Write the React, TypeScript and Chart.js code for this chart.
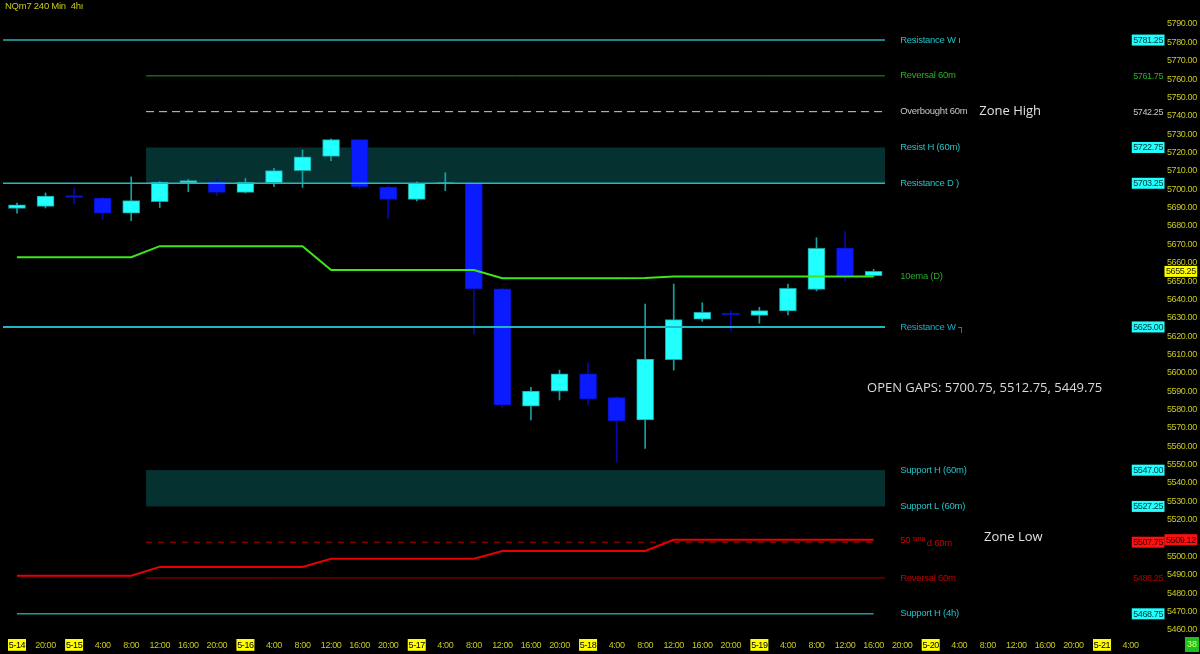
import React, { useEffect, useRef } from "react";
import { Chart, registerables } from "chart.js";

Chart.register(...registerables);

// ---------------- data ----------------
const xTickLabels = [
  "5-14", "20:00", "5-15", "4:00", "8:00", "12:00", "16:00", "20:00",
  "5-16", "4:00", "8:00", "12:00", "16:00", "20:00",
  "5-17", "4:00", "8:00", "12:00", "16:00", "20:00",
  "5-18", "4:00", "8:00", "12:00", "16:00", "20:00",
  "5-19", "4:00", "8:00", "12:00", "16:00", "20:00",
  "5-20", "4:00", "8:00", "12:00", "16:00", "20:00",
  "5-21", "4:00",
];

const yTickValues = [
  5460, 5470, 5480, 5490, 5500, 5510, 5520, 5530, 5540, 5550, 5560, 5570,
  5580, 5590, 5600, 5610, 5620, 5630, 5640, 5650, 5660, 5670, 5680, 5690,
  5700, 5710, 5720, 5730, 5740, 5750, 5760, 5770, 5780, 5790,
];

const candleOpen = [
  5689.5, 5690.7, 5696.5, 5695.2, 5686.9, 5693.2, 5703.4, 5704.5, 5698.3, 5703.6,
  5710.1, 5717.9, 5727.0, 5701.2, 5694.5, 5703.0, 5703.2, 5645.8, 5581.8, 5590.0,
  5599.5, 5586.5, 5574.3, 5607.2, 5629.2, 5632.4, 5631.3, 5633.7, 5645.5, 5668.0,
  5652.9,
];
const candleHigh = [
  5692.5, 5698.0, 5700.7, 5695.5, 5706.7, 5704.2, 5705.4, 5705.6, 5705.8, 5711.4,
  5721.4, 5727.4, 5727.2, 5701.5, 5704.0, 5709.0, 5704.0, 5646.0, 5592.1, 5601.5,
  5605.5, 5587.0, 5637.5, 5648.4, 5638.2, 5633.7, 5635.7, 5648.4, 5673.6, 5676.9,
  5656.4,
];
const candleLow = [
  5687.0, 5689.8, 5692.0, 5683.6, 5682.9, 5690.0, 5698.7, 5696.5, 5698.0, 5701.4,
  5701.0, 5715.5, 5700.0, 5684.2, 5693.6, 5699.2, 5621.2, 5581.2, 5574.3, 5585.2,
  5582.5, 5551.4, 5558.9, 5601.5, 5628.0, 5622.8, 5627.0, 5631.5, 5644.6, 5650.2,
  5652.5,
];
const candleClose = [
  5691.5, 5696.3, 5695.5, 5686.9, 5693.8, 5703.9, 5704.7, 5698.3, 5703.8, 5710.1,
  5717.7, 5727.0, 5701.4, 5694.5, 5703.2, 5703.6, 5645.8, 5582.5, 5590.1, 5599.5,
  5585.8, 5574.0, 5607.5, 5629.0, 5633.0, 5631.5, 5633.9, 5646.0, 5667.8, 5652.9,
  5655.25,
];

const ema10Daily = [
  5663.0, 5663.0, 5663.0, 5663.0, 5663.0, 5669.0, 5669.0, 5669.0, 5669.0, 5669.0,
  5669.0, 5656.0, 5656.0, 5656.0, 5656.0, 5656.0, 5656.0, 5651.5, 5651.5, 5651.5,
  5651.5, 5651.5, 5651.7, 5652.5, 5652.5, 5652.5, 5652.5, 5652.5, 5652.5, 5652.5,
  5652.5,
];
const sma50Step = [
  5489.5, 5489.5, 5489.5, 5489.5, 5489.5, 5494.3, 5494.3, 5494.3, 5494.3, 5494.3,
  5494.3, 5498.7, 5498.7, 5498.7, 5498.7, 5498.7, 5498.7, 5503.0, 5503.0, 5503.0,
  5503.0, 5503.0, 5503.0, 5509.12, 5509.12, 5509.12, 5509.12, 5509.12, 5509.12, 5509.12,
  5509.12,
];

const levelNames = [
  "Resistance W ı", "Reversal 60m", "Overbought 60m", "Resist H (60m)", "Resistance D )",
  "Resistance W ┐", "Support H (60m)", "Support L (60m)", "50 sma d 60m", "Reversal 60m",
  "Support H (4h)",
];
const levelPrices = [
  5781.25, 5761.75, 5742.25, 5722.75, 5703.25, 5625.0, 5547.0, 5527.25, 5507.75, 5488.25,
  5468.75,
];
const zoneResist = [5722.75, 5703.25];
const zoneSupport = [5547.0, 5527.25];
const lastPrice = 5655.25;
const smaLast = 5509.12;
const openGapPrices = [5700.75, 5512.75, 5449.75];
const titleText = "NQm7 240 Min  4hı";
const barCounter = "38";
const emaLabel = "10ema (D)";

// ---------------- styles / layout (not data) ----------------
const SANS = "'Liberation Sans', Arial, sans-serif";
const BIG = "'Open Sans', 'Noto Sans', sans-serif";
const TICK_SIZE = 9;
const TICK_SPACING = "-0.4px";
const LABEL_SIZE = 9.5;
const LABEL_SPACING = "-0.25px";
const AXIS_YELLOW = "#c8c81e";
const CYAN_TXT = "#22c2c6";
const X_MIN = -0.595;
const X_MAX = 39.05;
const Y_MIN = 5456.67;
const Y_MAX = 5803.07;
const SPAN_LEFT = -0.49;
const SPAN_ZONE = 4.52;
const SPAN_END = 30.4;
const SPAN_END_SHORT = 30.0;
const LABEL_BAR = 30.93;

const levelStyle = [
  { line: true, from: SPAN_LEFT, to: SPAN_END, color: "#25b2b4", width: 1.5, dash: [], text: CYAN_TXT, tag: "cyan" },
  { line: true, from: SPAN_ZONE, to: SPAN_END, color: "#1d9a1d", width: 1, dash: [], text: "#22b422", tag: "green" },
  { line: true, from: SPAN_ZONE, to: SPAN_END, color: "#d0d0d0", width: 1, dash: [8, 5], text: "#c8c8c8", tag: "gray" },
  { line: false, from: 0, to: 0, color: "", width: 0, dash: [], text: CYAN_TXT, tag: "cyan" },
  { line: true, from: SPAN_LEFT, to: SPAN_END, color: "#28b8bc", width: 1.5, dash: [], text: CYAN_TXT, tag: "cyan" },
  { line: true, from: SPAN_LEFT, to: SPAN_END, color: "#20b6c2", width: 2, dash: [], text: "#1eaac8", tag: "cyan" },
  { line: false, from: 0, to: 0, color: "", width: 0, dash: [], text: CYAN_TXT, tag: "cyan" },
  { line: false, from: 0, to: 0, color: "", width: 0, dash: [], text: CYAN_TXT, tag: "cyan" },
  { line: true, from: SPAN_ZONE, to: SPAN_END_SHORT, color: "#b80000", width: 1, dash: [6, 6], text: "#d00000", tag: "red" },
  { line: true, from: SPAN_ZONE, to: SPAN_END, color: "#a00000", width: 1, dash: [], text: "#c00000", tag: "darkred" },
  { line: true, from: 0, to: SPAN_END_SHORT, color: "#1d9ca2", width: 1.5, dash: [], text: CYAN_TXT, tag: "cyan" },
];

function isDateLabel(s: string) {
  return s.indexOf("-") >= 0;
}

function tagBox(ctx: any, text: string, x: number, y: number, align: string, bg: string | null, fg: string) {
  ctx.font = `${TICK_SIZE}px ${SANS}`;
  ctx.letterSpacing = TICK_SPACING;
  const w = ctx.measureText(text).width;
  const left = align === "right" ? x - w : x;
  if (bg) {
    ctx.fillStyle = bg;
    ctx.fillRect(left - 1.5, y - 5.5, w + 3, 11);
  }
  ctx.fillStyle = fg;
  ctx.textAlign = "left";
  ctx.textBaseline = "middle";
  ctx.fillText(text, left, y + 0.5);
}

const overlayPlugin = {
  id: "overlay",
  beforeDraw(chart: any) {
    const c = chart.ctx;
    c.save();
    c.fillStyle = "#000";
    c.fillRect(0, 0, chart.width, chart.height);
    c.restore();
    // tighter letter spacing for the library-drawn tick labels
    c.letterSpacing = TICK_SPACING;
  },
  beforeDatasetsDraw(chart: any) {
    const c = chart.ctx;
    const xs = chart.scales.x;
    const ys = chart.scales.y;
    c.save();
    c.fillStyle = "#063131";
    [zoneResist, zoneSupport].forEach((z) => {
      const x0 = xs.getPixelForValue(SPAN_ZONE);
      const x1 = xs.getPixelForValue(SPAN_END);
      const y0 = ys.getPixelForValue(z[0]);
      const y1 = ys.getPixelForValue(z[1]);
      c.fillRect(x0, y0, x1 - x0, y1 - y0);
    });
    c.restore();
  },
  afterDraw(chart: any) {
    const c = chart.ctx;
    const xs = chart.scales.x;
    const ys = chart.scales.y;
    const area = chart.chartArea;
    c.save();
    // level names
    const lx = xs.getPixelForValue(LABEL_BAR);
    c.textBaseline = "middle";
    c.textAlign = "left";
    c.letterSpacing = LABEL_SPACING;
    levelNames.forEach((name, i) => {
      const y = ys.getPixelForValue(levelPrices[i]);
      c.fillStyle = levelStyle[i].text;
      if (name.indexOf("sma") >= 0) {
        const parts = name.split(" ");
        c.font = `${LABEL_SIZE}px ${SANS}`;
        c.fillText(parts[0], lx, y - 2);
        let px = lx + c.measureText(parts[0] + " ").width;
        c.font = `7px ${SANS}`;
        c.fillText(parts[1], px, y - 3);
        px += c.measureText(parts[1] + " ").width;
        c.font = `${LABEL_SIZE}px ${SANS}`;
        c.fillText(parts.slice(2).join(" "), px, y + 1);
      } else {
        c.font = `${LABEL_SIZE}px ${SANS}`;
        c.fillText(name, lx, y);
      }
    });
    c.font = `${LABEL_SIZE}px ${SANS}`;
    c.fillStyle = "#2aa82a";
    c.fillText(emaLabel, lx, ys.getPixelForValue(ema10Daily[ema10Daily.length - 1]));

    // price tags
    const innerRight = area.right + 31;
    const outerLeft = area.right + 34;
    levelPrices.forEach((p, i) => {
      const y = ys.getPixelForValue(p);
      const t = p.toFixed(2);
      const tag = levelStyle[i].tag;
      if (tag === "cyan") tagBox(c, t, innerRight, y, "right", "#22ffff", "#003434");
      else if (tag === "red") tagBox(c, t, innerRight, y, "right", "#ff1010", "#300000");
      else if (tag === "green") tagBox(c, t, innerRight, y, "right", null, "#22b422");
      else if (tag === "gray") tagBox(c, t, innerRight, y, "right", null, "#c8c8d0");
      else tagBox(c, t, innerRight, y, "right", null, "#b00000");
    });
    tagBox(c, lastPrice.toFixed(2), outerLeft, ys.getPixelForValue(lastPrice), "left", "#ffff00", "#202000");
    tagBox(c, smaLast.toFixed(2), outerLeft, ys.getPixelForValue(smaLast), "left", "#ff1010", "#300000");

    // title
    c.font = `${LABEL_SIZE}px ${SANS}`;
    c.letterSpacing = LABEL_SPACING;
    c.fillStyle = AXIS_YELLOW;
    c.textAlign = "left";
    c.textBaseline = "middle";
    c.fillText(titleText, 5, 6);

    // zone notes
    c.letterSpacing = "0px";
    c.font = `13px ${BIG}`;
    c.fillStyle = "#e0e0e0";
    c.fillText("Zone High", xs.getPixelForValue(33.7), ys.getPixelForValue(levelPrices[2]));
    c.fillText("Zone Low", xs.getPixelForValue(33.87), ys.getPixelForValue(5510.5));
    c.fillStyle = "#d8d8d8";
    c.fillText(
      "OPEN GAPS: " + openGapPrices.map((v) => v.toFixed(2)).join(", "),
      xs.getPixelForValue(29.77),
      ys.getPixelForValue(5591.5)
    );

    // bar counter box
    c.font = `${TICK_SIZE}px ${SANS}`;
    const w = c.measureText(barCounter).width;
    c.fillStyle = "#1fbf1f";
    c.fillRect(chart.width - w - 5, chart.height - 17, w + 4, 15);
    c.fillStyle = "#d8ff70";
    c.fillText(barCounter, chart.width - w - 3, chart.height - 9);
    c.restore();
  },
};

export default function App() {
  const ref = useRef<HTMLCanvasElement>(null);

  useEffect(() => {
    document.body.style.margin = "0";
    document.body.style.background = "#000";
    const canvas = ref.current;
    if (!canvas) return;

    const idx = candleOpen.map((_, i) => i);
    const up = idx.map((i) => candleClose[i] >= candleOpen[i]);

    const levelDatasets: any[] = [];
    levelPrices.forEach((p, i) => {
      const st = levelStyle[i];
      if (!st.line) return;
      levelDatasets.push({
        type: "line",
        data: [
          { x: st.from, y: p },
          { x: st.to, y: p },
        ],
        borderColor: st.color,
        borderWidth: st.width,
        borderDash: st.dash,
        pointRadius: 0,
        tension: 0,
        order: 0,
      });
    });

    const chart = new Chart(canvas, {
      type: "bar",
      data: {
        datasets: [
          ...levelDatasets,
          {
            type: "line",
            data: idx.map((i) => ({ x: i, y: ema10Daily[i] })),
            borderColor: "#3ee61a",
            borderWidth: 2,
            pointRadius: 0,
            tension: 0,
            order: 0,
          },
          {
            type: "line",
            data: idx.map((i) => ({ x: i, y: sma50Step[i] })),
            borderColor: "#e80000",
            borderWidth: 2,
            pointRadius: 0,
            tension: 0,
            order: 0,
          },
          {
            type: "bar",
            data: idx.map((i) => ({ x: i, y: [candleOpen[i], candleClose[i]] })),
            backgroundColor: idx.map((i) => (up[i] ? "#22ffff" : "#0a1cff")),
            borderColor: idx.map((i) => (up[i] ? "#17a3a3" : "#0812c8")),
            borderWidth: 1,
            borderSkipped: false,
            barThickness: 17,
            grouped: false,
            order: 2,
          },
          {
            type: "bar",
            data: idx.map((i) => ({ x: i, y: [candleLow[i], candleHigh[i]] })),
            backgroundColor: idx.map((i) => (up[i] ? "#17a0a0" : "#0808a8")),
            borderWidth: 0,
            barThickness: 1,
            grouped: false,
            order: 3,
          },
        ],
      },
      options: {
        responsive: false,
        animation: false,
        events: [],
        layout: { padding: 0 },
        plugins: { legend: { display: false }, tooltip: { enabled: false }, title: { display: false } },
        scales: {
          x: {
            type: "linear",
            min: X_MIN,
            max: X_MAX,
            offset: false,
            afterBuildTicks: (s: any) => {
              s.ticks = xTickLabels.map((_, i) => ({ value: i }));
            },
            afterFit: (s: any) => {
              s.height = 18;
              s.paddingLeft = 0;
              s.paddingRight = 0;
            },
            grid: { display: false, drawTicks: false },
            border: { display: false },
            ticks: {
              autoSkip: false,
              maxRotation: 0,
              minRotation: 0,
              padding: 4,
              font: { family: SANS, size: TICK_SIZE },
              callback: (_v: any, i: number) => xTickLabels[i],
              color: (ctx: any) => (isDateLabel(xTickLabels[ctx.index] || "") ? "#000" : AXIS_YELLOW),
              showLabelBackdrop: (ctx: any) => isDateLabel(xTickLabels[ctx.index] || ""),
              backdropColor: "#ffff00",
              backdropPadding: { top: 1, bottom: 0, left: 0, right: 0 },
            },
          },
          y: {
            type: "linear",
            position: "right",
            min: Y_MIN,
            max: Y_MAX,
            afterBuildTicks: (s: any) => {
              s.ticks = yTickValues.map((v) => ({ value: v }));
            },
            afterFit: (s: any) => {
              s.width = 68;
              s.paddingTop = 0;
              s.paddingBottom = 0;
            },
            grid: { display: false, drawTicks: false },
            border: { display: false },
            ticks: {
              padding: 35,
              color: AXIS_YELLOW,
              font: { family: SANS, size: TICK_SIZE },
              callback: (v: any) => Number(v).toFixed(2),
            },
          },
        },
      },
      plugins: [overlayPlugin],
    } as any);

    return () => chart.destroy();
  }, []);

  return (
    <div style={{ position: "fixed", left: 0, top: 0, width: 1200, height: 654, background: "#000" }}>
      <canvas ref={ref} width={1200} height={654} style={{ display: "block", width: 1200, height: 654 }} />
    </div>
  );
}
